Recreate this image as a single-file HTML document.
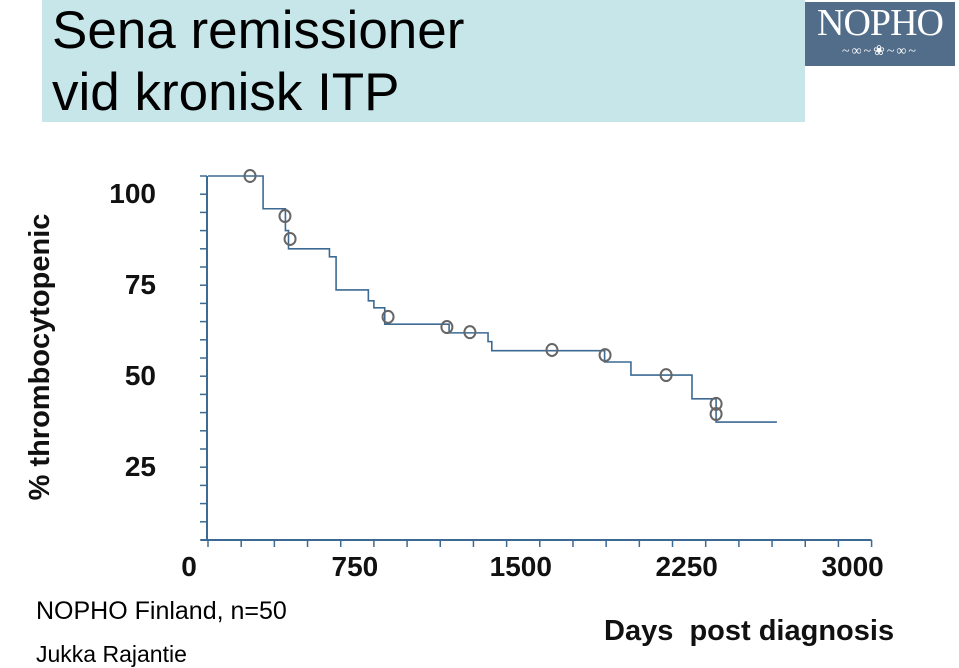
<!DOCTYPE html>
<html><head><meta charset="utf-8"><style>
body{margin:0;width:959px;height:668px;overflow:hidden;background:#fff;font-family:"Liberation Sans",Arial,sans-serif;position:relative}
.t{position:absolute;white-space:nowrap}
</style></head><body>
<div style="position:absolute;left:42px;top:0;width:763px;height:122px;background:#c6e6ea"></div>
<div class="t" style="left:52px;top:0px;font-size:53px;line-height:62px;color:#000">Sena remissioner<br>vid kronisk ITP</div>
<div style="position:absolute;left:805px;top:2px;width:150px;height:64px;background:#516d89;color:#fff;font-family:'Liberation Serif',serif;font-size:38px;text-align:center;line-height:42px;letter-spacing:-1px">NOPHO<div style="font-size:14px;line-height:16px;letter-spacing:2px">~∞~❀~∞~</div></div>
<svg id="chart" width="959" height="668" style="position:absolute;left:0;top:0">
<text transform="translate(49,357) rotate(-90)" text-anchor="middle" font-family="Liberation Sans, sans-serif" font-weight="bold" font-size="29" fill="#111">% thrombocytopenic</text>
<text x="604" y="640" font-family="Liberation Sans, sans-serif" font-weight="bold" font-size="29" fill="#111" xml:space="preserve">Days  post diagnosis</text>
<g id="axes"></g><g id="curve"></g><g id="marks"></g>
</svg>
<div class="t" style="left:36px;top:597px;font-size:25px">NOPHO Finland, n=50</div>
<div class="t" style="left:36px;top:641px;font-size:23px">Jukka Rajantie</div>
<script>
const xTicks=[0,750,1500,2250,3000];
const yTicks=[100,75,50,25];
const eventDays=[0,249,350,364,549,579,725,750,799,1090,1266,1283,1793,1912,2188,2297];
const eventSurv=[100,91,85,80,77.8,68.7,65.7,63.8,59.3,56.9,54.5,52,48.9,45.3,38.8,32.4];
const endDay=2572;
const censorDays=[190,348,371,814,1080,1184,1555,1795,2071,2297,2297];
const censorSurv=[100,89,82.7,61.3,58.5,57.1,52.2,50.8,45.3,37.4,34.6];
const NS='http://www.w3.org/2000/svg';
const x=d=>208+d*0.2212, y=v=>540-v*3.64;
function mk(t,a,p){const e=document.createElementNS(NS,t);for(const k in a)e.setAttribute(k,a[k]);document.getElementById(p).appendChild(e);return e;}
const col='#3d6a93';
let e=mk('line',{x1:207,y1:y(100),x2:207,y2:541,stroke:col,'stroke-width':2},'axes');


e=mk('line',{x1:201,y1:540,x2:x(3000),y2:540,stroke:col,'stroke-width':2},'axes');


for(let v=0;v<=100;v+=5){e=mk('line',{x1:200,y1:y(v),x2:207,y2:y(v),stroke:col,'stroke-width':1.5},'axes');

}
for(let d=0;d<=3000;d+=150){e=mk('line',{x1:x(d),y1:540,x2:x(d),y2:547,stroke:col,'stroke-width':1.5},'axes');

}
xTicks.forEach(d=>{e=mk('text',{x:x(d)-19,y:576,'text-anchor':'middle','font-weight':'bold','font-size':28,'font-family':'Liberation Sans, sans-serif',fill:'#111'},'axes');e.textContent=d;

});
yTicks.forEach(v=>{e=mk('text',{x:156,y:y(v)+27,'text-anchor':'end','font-weight':'bold','font-size':28,'font-family':'Liberation Sans, sans-serif',fill:'#111'},'axes');e.textContent=v;

});
let p='M'+x(0)+' '+y(eventSurv[0]);
for(let i=1;i<eventDays.length;i++){p+=' H'+x(eventDays[i])+' V'+y(eventSurv[i]);}
p+=' H'+x(endDay);
e=mk('path',{d:p,fill:'none',stroke:col,'stroke-width':1.6},'curve');


censorDays.forEach((d,i)=>{e=mk('ellipse',{cx:x(d),cy:y(censorSurv[i]),rx:5.5,ry:6,fill:'none',stroke:'#666','stroke-width':2},'marks');

});
</script>
</body></html>
